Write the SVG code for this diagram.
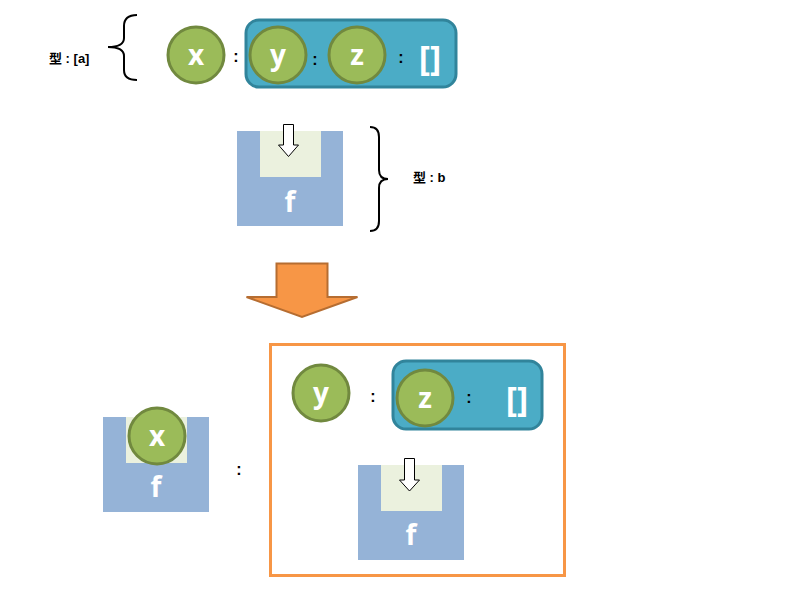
<svg xmlns="http://www.w3.org/2000/svg" width="796" height="592" viewBox="0 0 796 592">
<style>
.bg{fill:#ffffff}
.ball{fill:#9BBB59;stroke:#71893F;stroke-width:3}
.list{fill:#4BACC6;stroke:#31849B;stroke-width:3}
.box{fill:#95B3D7}
.hole{fill:#EBF1DE}
.wt{font-family:"Open Sans","DejaVu Sans",sans-serif;font-weight:bold;fill:#ffffff;text-anchor:middle}
.br{font-family:"Open Sans","DejaVu Sans",sans-serif;font-weight:bold;fill:#ffffff;text-anchor:middle;font-size:34px}
.lbl{font-family:"Liberation Sans","Noto Sans CJK JP",sans-serif;font-weight:bold;font-size:13px;fill:#000000}
.col{font-family:"Liberation Sans",sans-serif;font-weight:bold;font-size:16px;fill:#000000;text-anchor:middle}
.brace{fill:none;stroke:#000000;stroke-width:2}
.inarrow{fill:#ffffff;stroke:#000000;stroke-width:1}
</style>
<rect class="bg" x="0" y="0" width="796" height="592"/>

<g id="type-a-label">
  <text class="lbl" x="49" y="63">型 : [a]</text>
  <path class="brace" d="M137,15 Q124,15 124,26 L124,38 Q124,47 108,47 Q124,47 124,56 L124,70 Q124,80 137,80"/>
</g>

<g id="list-top">
  <rect class="list" x="246" y="20" width="210" height="67" rx="13"/>
</g>
<g id="x-top">
  <circle class="ball" cx="196" cy="55" r="28"/>
  <text class="wt" x="196" y="65" font-size="28">x</text>
</g>
<g id="y-top">
  <circle class="ball" cx="278" cy="55" r="28"/>
  <text class="wt" x="278" y="65" font-size="28">y</text>
</g>
<g id="z-top">
  <circle class="ball" cx="357" cy="55" r="28"/>
  <text class="wt" x="357" y="65" font-size="28">z</text>
</g>
<text class="col" x="236" y="62">:</text>
<text class="col" x="315" y="65">:</text>
<text class="col" x="401" y="63">:</text>
<text class="br" x="430" y="70">[]</text>

<g id="f-top">
  <rect class="box" x="237" y="131" width="106" height="95"/>
  <rect class="hole" x="260" y="131" width="61" height="46"/>
  <path class="inarrow" d="M283.5,124.5 L293.5,124.5 L293.5,145 L298.5,145 L288.5,156.5 L278.5,145 L283.5,145 Z"/>
  <text class="wt" x="290" y="212" font-size="28">f</text>
</g>

<g id="type-b-label">
  <path class="brace" d="M370,127 Q379,127 379,137 L379,170 Q379,179 388,179 Q379,179 379,188 L379,221 Q379,231 370,231"/>
  <text class="lbl" x="413" y="182">型 : b</text>
</g>

<g id="big-arrow">
  <path d="M276.5,263.5 L327.5,263.5 L327.5,297 L357.5,297 L302,317 L246.5,297 L276.5,297 Z" fill="#F79646" stroke="#B66D31" stroke-width="2"/>
</g>

<g id="f-bottom-left">
  <rect class="box" x="103" y="417" width="106" height="95"/>
  <rect class="hole" x="126" y="417" width="61" height="46"/>
  <text class="wt" x="156" y="497" font-size="28">f</text>
</g>
<g id="x-bottom">
  <circle class="ball" cx="157" cy="436" r="28"/>
  <text class="wt" x="157" y="446" font-size="28">x</text>
</g>
<text class="col" x="239" y="475">:</text>

<g id="result-frame">
  <rect x="270.5" y="344.5" width="294" height="231" fill="none" stroke="#F79646" stroke-width="3"/>
</g>
<g id="y-bottom">
  <circle class="ball" cx="321" cy="393" r="28"/>
  <text class="wt" x="321" y="403" font-size="28">y</text>
</g>
<text class="col" x="373" y="402">:</text>
<g id="list-bottom">
  <rect class="list" x="393" y="361" width="149" height="68" rx="13"/>
</g>
<g id="z-bottom">
  <circle class="ball" cx="425" cy="398" r="28"/>
  <text class="wt" x="425" y="408" font-size="28">z</text>
</g>
<text class="col" x="469" y="403">:</text>
<text class="br" x="517" y="411">[]</text>

<g id="f-bottom-right">
  <rect class="box" x="358" y="465" width="106" height="95"/>
  <rect class="hole" x="381" y="465" width="61" height="46"/>
  <path class="inarrow" d="M404.5,458.5 L414.5,458.5 L414.5,480 L419.5,480 L409.5,491 L399.5,480 L404.5,480 Z"/>
  <text class="wt" x="411" y="545" font-size="28">f</text>
</g>
</svg>
